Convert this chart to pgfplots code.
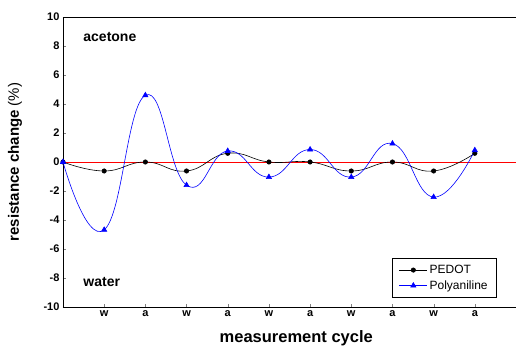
\documentclass[border=0pt]{standalone}
\usepackage{fontspec}
\setmainfont{Liberation Sans}
\usepackage{pgfplots}
\pgfplotsset{compat=1.18}
\begin{document}
\begin{tikzpicture}
\begin{axis}[
  scale only axis,
  width=453pt, height=290pt,
  xmin=0, xmax=11, ymin=-10, ymax=10,
  axis x line=box, axis y line=left,
  axis line style={-, line width=0.8pt},
  tick align=inside,
  major tick length=3pt,
  xtick pos=bottom, ytick pos=left,
  xtick={1,...,10},
  xticklabels={w,a,w,a,w,a,w,a,w,a},
  ytick={-10,-8,...,10},
  yticklabels={-10,-8,-6,-4,-2,0,2,4,6,8,10},
  ticklabel style={font=\bfseries\fontsize{11}{13}\selectfont},
  xlabel={measurement cycle},
  ylabel={resistance change {\mdseries(\%)}},
  xlabel style={font=\bfseries\fontsize{16.5}{18}\selectfont, at={(axis description cs:0.515,-0.107)}, anchor=center},
  ylabel style={font=\bfseries\fontsize{15}{17}\selectfont, at={(axis description cs:-0.106,0.5)}, anchor=center},
  legend style={at={(rel axis cs:0.958,0.031)}, anchor=south east, draw=black, line width=0.6pt,
    font=\fontsize{12}{14}\selectfont, row sep=1.5pt, inner xsep=7pt, inner ysep=5pt},
  legend image code/.code={\draw[mark repeat=2,mark phase=2,#1] plot coordinates {(0pt,0pt)(14pt,0pt)(28pt,0pt)};},
  legend cell align=left,
  clip=false,
]
\addplot[red, line width=0.7pt, forget plot] coordinates {(0,0) (11,0)};
\addplot[black, line width=0.6pt, smooth, tension=0.8, mark=*, mark size=2.2pt, mark options={fill=black}] coordinates {
(0,0) (1,-0.62) (2,0) (3,-0.62) (4,0.6) (5,0) (6,0) (7,-0.62) (8,0) (9,-0.62) (10,0.6)};
\addlegendentry{PEDOT}
\addplot[blue, line width=0.6pt, smooth, tension=0.8, mark=triangle*, mark size=3pt, mark options={fill=blue}] coordinates {
(0,0) (1,-4.68) (2,4.6) (3,-1.6) (4,0.76) (5,-1.04) (6,0.86) (7,-1.04) (8,1.27) (9,-2.42) (10,0.81)};
\addlegendentry{Polyaniline}
\node[anchor=west, font=\bfseries\fontsize{14}{16}\selectfont] at (axis cs:0.41,8.6) {acetone};
\node[anchor=west, font=\bfseries\fontsize{14}{16}\selectfont] at (axis cs:0.41,-8.28) {water};
\end{axis}
\path (current axis.south west) ++(-63pt,-40pt) coordinate (bbA);
\path (current axis.north east) ++(0pt,17pt) coordinate (bbB);
\pgfresetboundingbox
\path (bbA) rectangle (bbB);
\end{tikzpicture}
\end{document}
